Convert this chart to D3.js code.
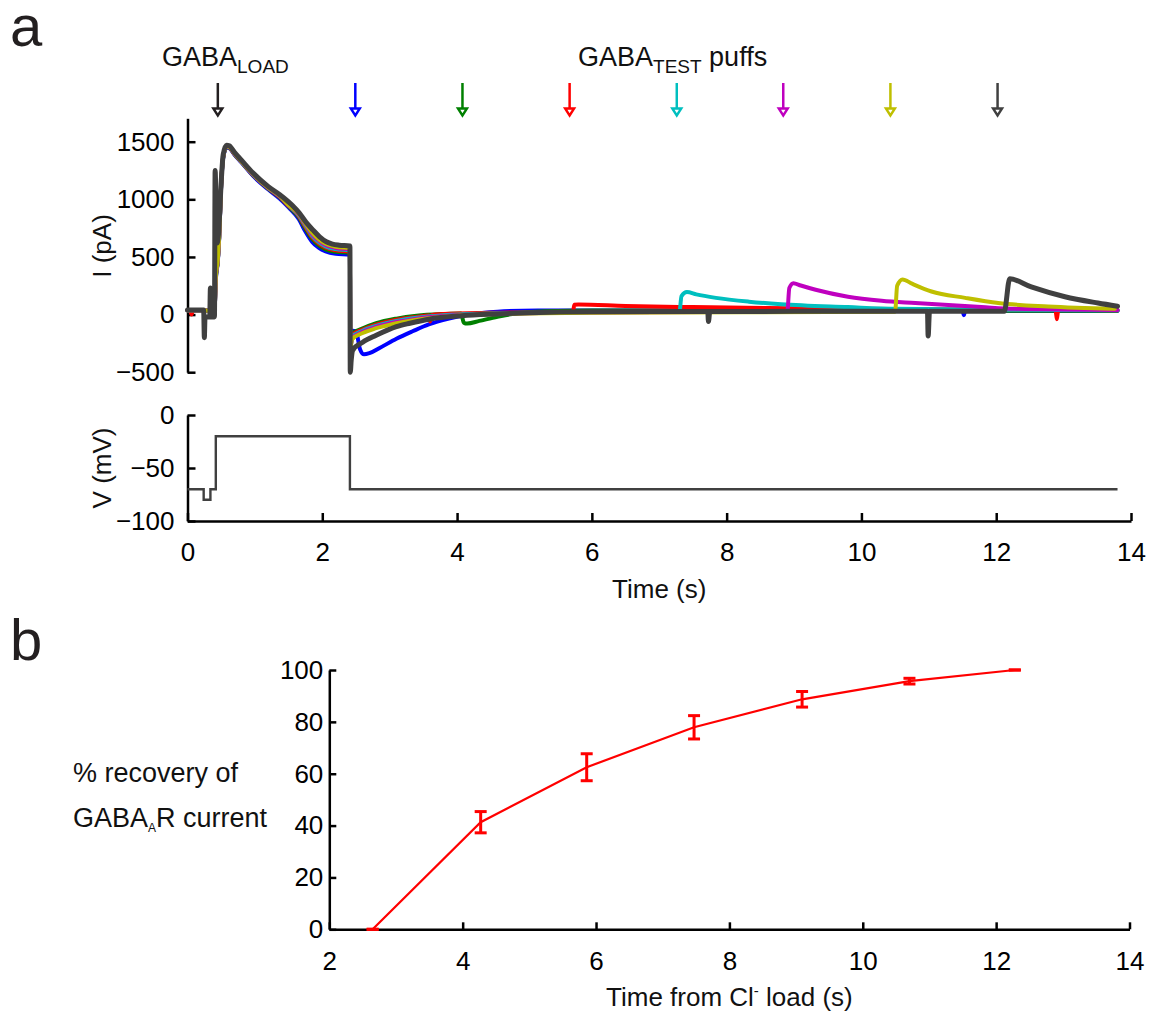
<!DOCTYPE html>
<html>
<head>
<meta charset="utf-8">
<script src="https://cdn.jsdelivr.net/npm/d3@7"></script>
<style>
  html, body { margin: 0; padding: 0; background: #fff; }
  svg { display: block; font-family: "Liberation Sans", Arial, sans-serif; }
</style>
</head>
<body>
<svg id="fig" width="1155" height="1016"></svg>
<script>
// ---------------- Panel a: whole-cell current traces [time (s), current (pA)] ----------------
const blueTrace = [[0,38],[0.24,38],[0.3,34],[0.4,28],[0.42,300],[0.45,460],[0.47,660],[0.5,1120],[0.53,1360],[0.58,1450],[0.62,1445],[0.7,1385],[0.8,1320],[0.97,1205],[1.2,1085],[1.37,1005],[1.5,930],[1.65,830],[1.75,720],[1.85,630],[1.95,578],[2.05,548],[2.2,528],[2.41,520],[2.415,-300],[2.45,-140],[2.5,-145],[2.56,-300],[2.62,-345],[2.7,-335],[2.85,-290],[3.1,-210],[3.34,-145],[3.58,-85],[3.88,-35],[4.18,0],[4.6,25],[5.2,36],[8,36],[11,34],[11.5,34],[11.52,-5],[11.54,34],[13.8,34]];
const greenTrace = [[0,38],[0.24,38],[0.3,34],[0.4,28],[0.42,310],[0.45,470],[0.47,670],[0.5,1130],[0.53,1365],[0.58,1455],[0.62,1450],[0.7,1390],[0.8,1325],[0.97,1212],[1.2,1092],[1.37,1015],[1.5,940],[1.65,845],[1.75,745],[1.85,655],[1.95,600],[2.05,565],[2.2,545],[2.41,535],[2.415,-300],[2.44,-165],[2.6,-120],[2.8,-75],[3.1,-35],[3.4,-10],[3.8,5],[4.06,10],[4.1,-70],[4.15,-78],[4.33,-55],[4.6,-20],[4.82,5],[5.32,28],[6,36],[9,34],[13.8,34]];
const redTrace = [[0,38],[0.04,38],[0.06,0],[0.08,38],[0.24,38],[0.3,34],[0.4,28],[0.42,315],[0.45,472],[0.47,672],[0.5,1132],[0.53,1368],[0.58,1456],[0.62,1451],[0.7,1391],[0.8,1327],[0.97,1214],[1.2,1095],[1.37,1020],[1.5,944],[1.65,855],[1.75,760],[1.85,670],[1.95,615],[2.05,580],[2.2,558],[2.41,545],[2.415,-300],[2.44,-180],[2.6,-130],[2.8,-88],[3.1,-45],[3.4,-20],[3.58,-8],[3.6,-60],[3.62,-5],[3.8,5],[4.5,15],[5.72,25],[5.74,85],[5.8,88],[6.5,75],[7.5,65],[9,55],[10.5,48],[12,42],[12.88,40],[12.9,-40],[12.92,40],[13.8,38]];
const cyanTrace = [[0,38],[0.24,38],[0.3,34],[0.4,28],[0.42,320],[0.45,475],[0.47,675],[0.5,1135],[0.53,1370],[0.58,1458],[0.62,1453],[0.7,1393],[0.8,1328],[0.97,1216],[1.2,1097],[1.37,1024],[1.5,947],[1.65,862],[1.75,772],[1.85,685],[1.95,628],[2.05,592],[2.2,568],[2.41,555],[2.415,-300],[2.44,-195],[2.6,-140],[2.8,-98],[3.1,-55],[3.4,-27],[3.8,-5],[4.5,10],[6,22],[7.3,25],[7.33,160],[7.41,195],[7.55,175],[7.84,145],[8.33,112],[8.81,90],[9.8,65],[10.5,50],[12,42],[13.8,38]];
const magentaTrace = [[0,38],[0.24,38],[0.3,34],[0.4,28],[0.42,325],[0.45,478],[0.47,678],[0.5,1138],[0.53,1372],[0.58,1459],[0.62,1454],[0.7,1394],[0.8,1329],[0.97,1218],[1.2,1099],[1.37,1027],[1.5,949],[1.65,868],[1.75,782],[1.85,698],[1.95,640],[2.05,603],[2.2,578],[2.41,565],[2.415,-300],[2.44,-205],[2.6,-150],[2.8,-108],[3.1,-65],[3.4,-35],[3.8,-12],[4.5,5],[6,18],[8.9,25],[8.93,230],[8.99,272],[9.1,252],[9.32,215],[9.8,155],[10.3,120],[10.8,100],[11.78,65],[12.28,50],[13.8,40]];
const oliveTrace = [[0,38],[0.24,38],[0.3,34],[0.4,28],[0.42,330],[0.45,480],[0.47,680],[0.5,1140],[0.53,1375],[0.58,1460],[0.62,1455],[0.7,1395],[0.8,1330],[0.97,1220],[1.2,1100],[1.37,1030],[1.5,950],[1.65,874],[1.75,790],[1.85,710],[1.95,652],[2.05,614],[2.2,588],[2.41,575],[2.415,-300],[2.44,-215],[2.6,-160],[2.8,-118],[3.1,-75],[3.4,-44],[3.8,-18],[4.5,2],[6,15],[10.5,25],[10.53,250],[10.61,305],[10.75,268],[11.04,200],[11.54,145],[12.03,100],[12.77,70],[13.76,50]];
const grayTrace = [[0,40],[0.24,40],[0.25,-200],[0.26,-20],[0.33,-20],[0.34,230],[0.35,-20],[0.4,-20],[0.41,1250],[0.425,900],[0.44,620],[0.46,700],[0.5,1150],[0.53,1390],[0.58,1470],[0.62,1465],[0.7,1405],[0.8,1340],[0.97,1230],[1.2,1110],[1.37,1040],[1.55,950],[1.66,880],[1.76,800],[1.86,735],[1.96,675],[2.06,632],[2.15,612],[2.25,602],[2.41,595],[2.415,-500],[2.43,-390],[2.45,-310],[2.6,-240],[2.8,-180],[3.1,-105],[3.3,-75],[3.58,-40],[4.07,-10],[4.6,5],[5.07,15],[6,24],[7.72,26],[7.73,-60],[7.75,26],[9,28],[10.98,28],[10.99,-185],[11.01,28],[12.12,28],[12.2,310],[12.52,240],[13.02,155],[13.51,100],[13.8,72]];

const traceColors = ["#0000ff", "#008000", "#ff0000", "#00bfbf", "#bf00bf", "#bfbf00", "#404040"];
const traces = [blueTrace, greenTrace, redTrace, cyanTrace, magentaTrace, oliveTrace, grayTrace];

// Command voltage (mV), step-wise
const voltageTimes = [0, 0.24, 0.34, 0.42, 2.41, 13.8];
const voltageValues = [-70, -80, -70, -20, -70, -70];

// GABA puff times (s) and their colours: first = loading puff, rest = test puffs
const puffTimes = [0.45, 2.49, 4.08, 5.67, 7.26, 8.84, 10.43, 12.02];
const puffColors = ["#231f20", "#0000ff", "#008000", "#ff0000", "#00bfbf", "#bf00bf", "#bfbf00", "#404040"];

const timeTicks = [0, 2, 4, 6, 8, 10, 12, 14];
const currentTicks = [-500, 0, 500, 1000, 1500];
const voltageTicks = [-100, -50, 0];

// ---------------- Panel b: recovery of GABA-A receptor current ----------------
const recoveryTimes = [2.65, 4.27, 5.86, 7.47, 9.09, 10.70, 12.28];
const recoveryMeans = [0, 41.3, 62.5, 77.9, 88.7, 95.7, 100];
const recoverySems = [0, 4.1, 5.2, 4.5, 3.0, 1.1, 0];
const recoveryTimeTicks = [2, 4, 6, 8, 10, 12, 14];
const recoveryTicks = [0, 20, 40, 60, 80, 100];

// ---------------- drawing ----------------
const svg = d3.select("#fig");
svg.append("rect").attr("width", 1155).attr("height", 1016).attr("fill", "#fff");

const FONT = 26;

function styleAxis(g) {
  g.select(".domain").attr("stroke", "#000").attr("stroke-width", 2.5);
  g.selectAll(".tick line").attr("stroke", "#000").attr("stroke-width", 2.5);
  g.selectAll(".tick text").attr("fill", "#000").style("font-size", FONT + "px")
    .style("font-family", '"Liberation Sans", Arial, sans-serif');
}

// scales for panel a
const x = d3.scaleLinear().domain([0, 14]).range([187.5, 1131]);
const yI = d3.scaleLinear().domain([-500, 1500]).range([372.2, 141.7]);
const yV = d3.scaleLinear().domain([-100, 0]).range([521, 415]);

// current axis (axis line extends a little above the top tick)
const yIAxisScale = yI.copy().domain([-500, 1703]).range([yI(-500), yI(1703)]);
const gI = svg.append("g").attr("transform", `translate(${x(0)},0)`)
  .call(d3.axisLeft(yIAxisScale).tickValues(currentTicks).tickSizeInner(-8).tickSizeOuter(0).tickPadding(13).tickFormat(d3.format("d")));
styleAxis(gI);

// voltage axis
const gV = svg.append("g").attr("transform", `translate(${x(0)},0)`)
  .call(d3.axisLeft(yV).tickValues(voltageTicks).tickSizeInner(-8).tickSizeOuter(0).tickPadding(13).tickFormat(d3.format("d")));
styleAxis(gV);

// shared time axis
const gT = svg.append("g").attr("transform", `translate(0,${yV(-100)})`)
  .call(d3.axisBottom(x).tickValues(timeTicks).tickSizeInner(-8).tickSizeOuter(0).tickPadding(22));
styleAxis(gT);

// current traces
const lineI = d3.line().x(d => x(d[0])).y(d => yI(d[1])).curve(d3.curveMonotoneX);
svg.append("g").selectAll("path").data(traces).join("path")
  .attr("d", lineI)
  .attr("fill", "none")
  .attr("stroke", (d, i) => traceColors[i])
  .attr("stroke-width", (d, i) => i === traces.length - 1 ? 5 : 4)
  .attr("stroke-linejoin", "round")
  .attr("stroke-linecap", "round");

// voltage command
const vData = voltageTimes.map((t, i) => [t, voltageValues[i]]);
svg.append("path")
  .attr("d", d3.line().x(d => x(d[0])).y(d => yV(d[1])).curve(d3.curveStepAfter)(vData))
  .attr("fill", "none").attr("stroke", "#404040").attr("stroke-width", 2.4);

// puff arrows
const arrows = svg.append("g");
puffTimes.forEach((t, i) => {
  const ax = x(t);
  arrows.append("line").attr("x1", ax).attr("x2", ax).attr("y1", 83).attr("y2", 108)
    .attr("stroke", puffColors[i]).attr("stroke-width", 2.5);
  arrows.append("path")
    .attr("d", `M${ax - 4.5},108.5L${ax + 4.5},108.5L${ax},115.5Z`)
    .attr("fill", "#fff").attr("stroke", puffColors[i]).attr("stroke-width", 2.4)
    .attr("stroke-linejoin", "miter");
});

// annotations panel a
const t1 = svg.append("text").attr("x", 162).attr("y", 66).style("font-size", "27px").attr("fill", "#111");
t1.append("tspan").text("GABA");
t1.append("tspan").attr("dy", 7).style("font-size", "19px").text("LOAD");

const t2 = svg.append("text").attr("x", 578).attr("y", 66).style("font-size", "27px").attr("fill", "#111");
t2.append("tspan").text("GABA");
t2.append("tspan").attr("dy", 7).style("font-size", "19px").text("TEST");
t2.append("tspan").attr("dy", -7).text(" puffs");

svg.append("text").attr("transform", `translate(111,246) rotate(-90)`).attr("text-anchor", "middle")
  .style("font-size", FONT + "px").attr("fill", "#111").text("I (pA)");
svg.append("text").attr("transform", `translate(111,468) rotate(-90)`).attr("text-anchor", "middle")
  .style("font-size", FONT + "px").attr("fill", "#111").text("V (mV)");
svg.append("text").attr("x", (x(0) + x(14)) / 2).attr("y", 598).attr("text-anchor", "middle")
  .style("font-size", FONT + "px").attr("fill", "#111").text("Time (s)");

svg.append("text").attr("x", 10).attr("y", 46).style("font-size", "58px").attr("fill", "#231f20").text("a");
svg.append("text").attr("x", 10).attr("y", 660).style("font-size", "58px").attr("fill", "#231f20").text("b");

// ---------------- panel b ----------------
const xb = d3.scaleLinear().domain([2, 14]).range([329.3, 1129.5]);
const yb = d3.scaleLinear().domain([0, 100]).range([929.3, 670]);

const gbY = svg.append("g").attr("transform", `translate(${xb(2)},0)`)
  .call(d3.axisLeft(yb).tickValues(recoveryTicks).tickSizeInner(-7).tickSizeOuter(0).tickPadding(6));
styleAxis(gbY);
const gbX = svg.append("g").attr("transform", `translate(0,${yb(0)})`)
  .call(d3.axisBottom(xb).tickValues(recoveryTimeTicks).tickSizeInner(-7).tickSizeOuter(0).tickPadding(22));
styleAxis(gbX);

const recData = recoveryTimes.map((t, i) => ({ t, m: recoveryMeans[i], s: recoverySems[i] }));
svg.append("path")
  .attr("d", d3.line().x(d => xb(d.t)).y(d => yb(d.m))(recData))
  .attr("fill", "none").attr("stroke", "#ff0000").attr("stroke-width", 2.2);

const eb = svg.append("g").attr("stroke", "#ff0000").attr("stroke-width", 3);
recData.forEach(d => {
  const cx = xb(d.t);
  if (d.s > 0) {
    eb.append("line").attr("x1", cx).attr("x2", cx).attr("y1", yb(d.m - d.s)).attr("y2", yb(d.m + d.s));
  }
  [d.m - d.s, d.m + d.s].forEach(v => {
    eb.append("line").attr("x1", cx - 6).attr("x2", cx + 6).attr("y1", yb(v)).attr("y2", yb(v));
  });
});

svg.append("text").attr("x", 73).attr("y", 782).style("font-size", "27px").attr("fill", "#111")
  .text("% recovery of");
const yl2 = svg.append("text").attr("x", 73).attr("y", 827).style("font-size", "27px").attr("fill", "#111");
yl2.append("tspan").text("GABA");
yl2.append("tspan").attr("dy", 5).style("font-size", "12px").text("A");
yl2.append("tspan").attr("dy", -5).text("R current");

const xl = svg.append("text").attr("x", (xb(2) + xb(14)) / 2).attr("y", 1006).attr("text-anchor", "middle")
  .style("font-size", FONT + "px").attr("fill", "#111");
xl.append("tspan").text("Time from Cl");
xl.append("tspan").attr("dy", -10).style("font-size", "15px").text("-");
xl.append("tspan").attr("dy", 10).text(" load (s)");
</script>
</body>
</html>
